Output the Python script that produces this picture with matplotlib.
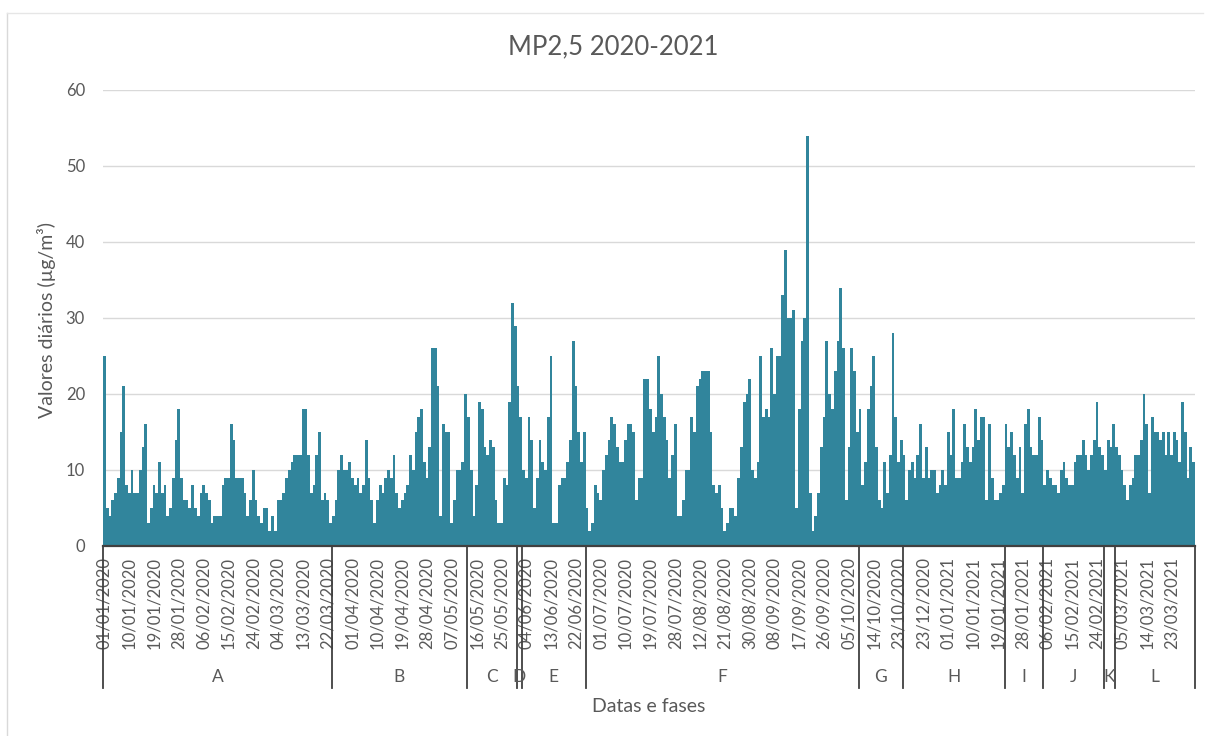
import matplotlib
matplotlib.use("Agg")
import matplotlib.pyplot as plt
import matplotlib.transforms as mtransforms
from matplotlib.lines import Line2D

plt.rcParams['font.family'] = ['Lato', 'DejaVu Sans']

# ---------------- data ----------------
phases = ['A', 'B', 'C', 'D', 'E', 'F', 'G', 'H', 'I', 'J', 'K', 'L']

mp25_A = [25, 5, 4, 6, 7, 9, 15, 21, 8, 7, 10, 7, 7, 10, 13, 16, 3, 5, 8, 7,
          11, 7, 8, 4, 5, 9, 14, 18, 9, 6, 6, 5, 8, 5, 4, 7, 8, 7, 6, 3,
          4, 4, 4, 8, 9, 9, 16, 14, 9, 9, 9, 7, 4, 6, 10, 6, 4, 3, 5, 5,
          2, 4, 2, 6, 6, 7, 9, 10, 11, 12, 12, 12, 18, 18, 12, 7, 8, 12, 15, 6,
          7, 6, 3]
mp25_B = [4, 6, 10, 12, 10, 10, 11, 9, 8, 9, 7, 8, 14, 9, 6, 3, 6, 8, 7, 9,
          10, 9, 12, 7, 5, 6, 7, 8, 12, 10, 15, 17, 18, 11, 9, 13, 26, 26, 21, 4,
          16, 15, 15, 3, 6, 10, 10, 11, 20]
mp25_C = [17, 10, 4, 8, 19, 18, 13, 12, 14, 13, 6, 3, 3, 9, 8, 19, 32, 29]
mp25_D = [21, 17]
mp25_E = [10, 9, 17, 14, 5, 9, 14, 11, 10, 17, 25, 3, 3, 8, 9, 9, 11, 14, 27, 21,
          15, 11, 15]
mp25_F = [5, 2, 3, 8, 7, 6, 10, 12, 14, 17, 16, 13, 11, 11, 14, 16, 16, 15, 6, 9,
          9, 22,
          22, 18, 15, 17, 25, 20, 17, 14, 9, 12, 16, 4, 4, 6, 10, 10, 17, 15, 21, 22,
          23, 23, 23, 15, 8, 7, 8, 5, 2, 3, 5, 5, 4, 9, 13, 19, 20, 22, 10, 9,
          11, 25, 17, 18, 17, 26, 20, 25, 25, 33, 39, 30, 30, 31, 5, 18, 27, 30, 54, 7,
          2, 4, 7, 13, 17, 27,
          20, 18, 23, 27, 34, 26, 6, 13, 26, 23, 15]
mp25_G = [18, 8, 11, 18, 21, 25, 13, 6, 5, 11, 7, 12, 28, 17, 11, 14]
mp25_H = [12, 6, 10, 11, 9, 12, 16, 9, 13, 9, 10, 10, 7, 8, 10, 8, 15, 12, 18, 9,
          9, 11, 16, 13, 11, 13, 18, 14, 17, 17, 6, 16, 9, 6, 6, 7, 8]
mp25_I = [16, 13, 15, 12, 9, 13, 7, 16, 18, 13, 12, 12, 17, 14]
mp25_J = [8, 10, 9, 8, 8, 7, 10, 11, 9, 8, 8, 11, 12, 12, 14, 12, 10, 12, 14, 19,
          13, 12]
mp25_K = [10, 14, 13, 16]
mp25_L = [13, 12, 10, 8, 6, 8, 9, 12, 12, 14, 20, 16, 7, 17, 15, 15, 14, 15, 12, 15,
          12, 15, 14, 11, 19, 15, 9, 13, 11]

phase_values = [mp25_A, mp25_B, mp25_C, mp25_D, mp25_E, mp25_F,
                mp25_G, mp25_H, mp25_I, mp25_J, mp25_K, mp25_L]

date_tick_labels = [
    '01/01/2020', '10/01/2020', '19/01/2020', '28/01/2020', '06/02/2020',
    '15/02/2020', '24/02/2020', '04/03/2020', '13/03/2020', '22/03/2020',
    '01/04/2020', '10/04/2020', '19/04/2020', '28/04/2020', '07/05/2020',
    '16/05/2020', '25/05/2020', '04/06/2020', '13/06/2020', '22/06/2020',
    '01/07/2020', '10/07/2020', '19/07/2020', '28/07/2020', '12/08/2020',
    '21/08/2020', '30/08/2020', '08/09/2020', '17/09/2020', '26/09/2020',
    '05/10/2020', '14/10/2020', '23/10/2020', '23/12/2020', '01/01/2021',
    '10/01/2021', '19/01/2021', '28/01/2021', '06/02/2021', '15/02/2021',
    '24/02/2021', '05/03/2021', '14/03/2021', '23/03/2021']
label_step = 9

# ---------------- build ----------------
values = [v for grp in phase_values for v in grp]
n = len(values)
xpos = list(range(n))
sizes = [len(g) for g in phase_values]

W, H = 1205, 736
fig = plt.figure(figsize=(W / 100, H / 100), dpi=100)
fig.patch.set_facecolor('white')
ax = fig.add_axes([103 / W, 190 / H, 1092 / W, 456 / H])

ax.bar(xpos, values, width=1.0, color='#31859C', edgecolor='none', linewidth=0)

ax.set_xlim(-0.5, n - 0.5)
ax.set_ylim(0, 60)
ax.set_yticks(range(0, 61, 10))
ax.yaxis.grid(True, color='#D9D9D9', linewidth=1.0)
ax.set_axisbelow(True)
for s in ['left', 'right', 'top']:
    ax.spines[s].set_visible(False)
ax.spines['bottom'].set_color('#404040')
ax.spines['bottom'].set_linewidth(1.6)

gray = '#595959'
ax.tick_params(axis='y', length=0, pad=13, labelsize=12, labelcolor=gray)
ticks = list(range(0, n, label_step))[:len(date_tick_labels)]
ax.set_xticks(ticks)
ax.set_xticklabels(date_tick_labels, rotation=90, fontsize=12, color=gray)
ax.tick_params(axis='x', length=0, pad=8)

trans = mtransforms.blended_transform_factory(ax.transData, ax.transAxes)
edges = [-0.5]
for s in sizes:
    edges.append(edges[-1] + s)
for e in edges:
    ax.plot([e, e], [0, -0.311], transform=trans, color='#404040',
            linewidth=1.3, clip_on=False)
for name, a, b in zip(phases, edges[:-1], edges[1:]):
    ax.text((a + b) / 2, -0.287, name, transform=trans, ha='center',
            va='center', fontsize=12.5, color=gray)

fig.text(649 / W, 1 - 707 / H, 'Datas e fases', ha='center', va='center',
         fontsize=14, color=gray)
fig.text(47 / W, 1 - 320 / H, 'Valores diários (µg/m³)', rotation=90,
         ha='center', va='center', fontsize=14, color=gray)
fig.text(613 / W, 1 - 47 / H, 'MP2,5 2020-2021', ha='center', va='center',
         fontsize=18.5, color=gray)

# chart-area border (faint)
fig.add_artist(Line2D([7 / W, 7 / W], [1 - 13 / H, 0], transform=fig.transFigure,
                      color='#D9D9D9', linewidth=1.0))
fig.add_artist(Line2D([7 / W, 1203 / W], [1 - 13 / H, 1 - 13 / H],
                      transform=fig.transFigure, color='#E6E6E6', linewidth=1.0))

fig.savefig('out.png', dpi=100)
